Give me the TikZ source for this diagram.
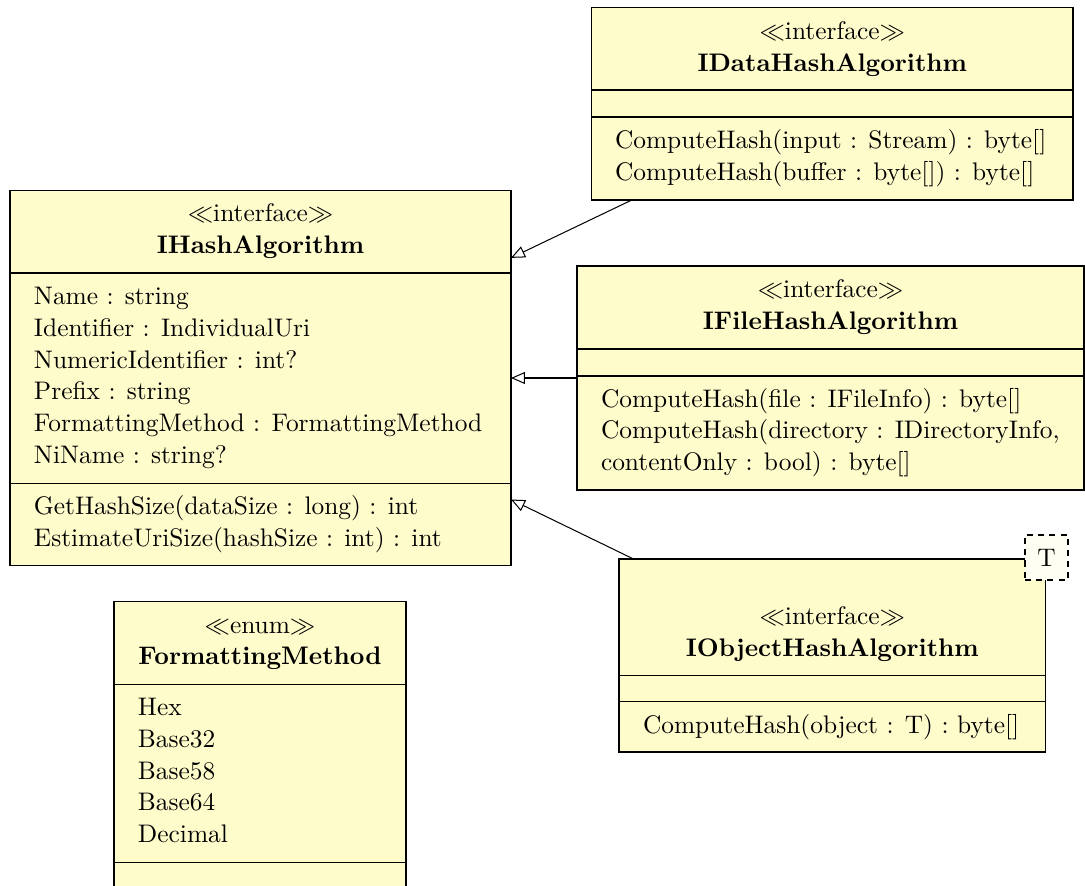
\documentclass[tikz,border=0pt]{standalone}
\usetikzlibrary{arrows.meta}

\tikzset{
  umltext/.style={inner sep=0pt, outer sep=0pt, font=\normalsize},
  classbox/.style={draw=black, fill=yellow!20, line width=0.45pt, inner sep=0pt, outer sep=0pt},
  tparam/.style={draw=black, fill=yellow!5, line width=0.45pt, dash pattern=on 2.4pt off 2pt, inner sep=0pt, outer sep=0pt},
  divider/.style={draw=black, line width=0.45pt},
  generalize/.style={draw=black, line width=0.4pt, -{Triangle[open, length=5.5pt, width=4.7pt, fill=white]}}
}

\begin{document}
\begin{tikzpicture}[x=0.3937pt, y=-0.3937pt]
\useasboundingbox (0,0) rectangle (1085,886);

% ---------- IHashAlgorithm ----------
\node[classbox, minimum width=197.24pt, minimum height=147.64pt] (ih) at (260.5,378) {};
\node[umltext, anchor=base] (ih-st) at (260.5,222) {$\ll$interface$\gg$};
\node[umltext, anchor=base] (ih-nm) at (260.5,253.7) {\textbf{IHashAlgorithm}};
\draw[divider] (10,273) -- (511,273);
\node[umltext, anchor=base west] (ih-a1) at (34,304.7) {Name : string};
\node[umltext, anchor=base west] (ih-a2) at (34,336.4) {Identifier : IndividualUri};
\node[umltext, anchor=base west] (ih-a3) at (34,368.1) {NumericIdentifier : int?};
\node[umltext, anchor=base west] (ih-a4) at (34,399.8) {Prefix : string};
\node[umltext, anchor=base west] (ih-a5) at (34,431.5) {FormattingMethod : FormattingMethod};
\node[umltext, anchor=base west] (ih-a6) at (34,463.2) {NiName : string?};
\draw[divider] (10,483.5) -- (511,483.5);
\node[umltext, anchor=base west] (ih-o1) at (34,514.7) {GetHashSize(dataSize : long) : int};
\node[umltext, anchor=base west] (ih-o2) at (34,546.4) {EstimateUriSize(hashSize : int) : int};

% ---------- IDataHashAlgorithm ----------
\node[classbox, minimum width=189.57pt, minimum height=75.79pt] (idata) at (832.25,103.75) {};
\node[umltext, anchor=base] (idata-st) at (832.25,39.5) {$\ll$interface$\gg$};
\node[umltext, anchor=base] (idata-nm) at (832.25,71.2) {\textbf{IDataHashAlgorithm}};
\draw[divider] (591.5,90) -- (1073,90);
\draw[divider] (591.5,117) -- (1073,117);
\node[umltext, anchor=base west] (idata-o1) at (615,148.4) {ComputeHash(input : Stream) : byte[]};
\node[umltext, anchor=base west] (idata-o2) at (615,180.1) {ComputeHash(buffer : byte[]) : byte[]};

% ---------- IFileHashAlgorithm ----------
\node[classbox, minimum width=199.61pt, minimum height=88.19pt] (ifile) at (830.5,378) {};
\node[umltext, anchor=base] (ifile-st) at (830.5,297.5) {$\ll$interface$\gg$};
\node[umltext, anchor=base] (ifile-nm) at (830.5,329.2) {\textbf{IFileHashAlgorithm}};
\draw[divider] (577,349) -- (1084,349);
\draw[divider] (577,376) -- (1084,376);
\node[umltext, anchor=base west] (ifile-o1) at (601,407.2) {ComputeHash(file : IFileInfo) : byte[]};
\node[umltext, anchor=base west] (ifile-o2) at (601,438.9) {ComputeHash(directory : IDirectoryInfo,};
\node[umltext, anchor=base west] (ifile-o3) at (601,470.6) {contentOnly : bool) : byte[]};

% ---------- IObjectHashAlgorithm<T> ----------
\node[classbox, minimum width=167.91pt, minimum height=75.98pt] (iobj) at (832.25,655.5) {};
\node[umltext, anchor=base] (iobj-st) at (832.25,624.5) {$\ll$interface$\gg$};
\node[umltext, anchor=base] (iobj-nm) at (832.25,656.2) {\textbf{IObjectHashAlgorithm}};
\draw[divider] (619,675.7) -- (1045.5,675.7);
\draw[divider] (619,701.7) -- (1045.5,701.7);
\node[umltext, anchor=base west] (iobj-o1) at (643,733.3) {ComputeHash(object : T) : byte[]};
\node[tparam, minimum width=16.93pt, minimum height=17.72pt] (iobj-t) at (1046.5,557.5) {};
\node[umltext, anchor=base] (iobj-tl) at (1046.5,566) {T};

% ---------- FormattingMethod ----------
\node[classbox, minimum width=114.96pt, minimum height=113.19pt] (fm) at (260,745.25) {};
\node[umltext, anchor=base] (fm-st) at (260,633) {$\ll$enum$\gg$};
\node[umltext, anchor=base] (fm-nm) at (260,664.7) {\textbf{FormattingMethod}};
\draw[divider] (114,684.2) -- (406,684.2);
\node[umltext, anchor=base west] (fm-v1) at (138,715.7) {Hex};
\node[umltext, anchor=base west] (fm-v2) at (138,747.4) {Base32};
\node[umltext, anchor=base west] (fm-v3) at (138,779.1) {Base58};
\node[umltext, anchor=base west] (fm-v4) at (138,810.8) {Base64};
\node[umltext, anchor=base west] (fm-v5) at (138,842.5) {Decimal};
\draw[divider] (114,862.5) -- (406,862.5);

% ---------- generalizations ----------
\draw[generalize] (idata) -- (ih);
\draw[generalize] (ifile) -- (ih);
\draw[generalize] (iobj) -- (ih);
\end{tikzpicture}
\end{document}
